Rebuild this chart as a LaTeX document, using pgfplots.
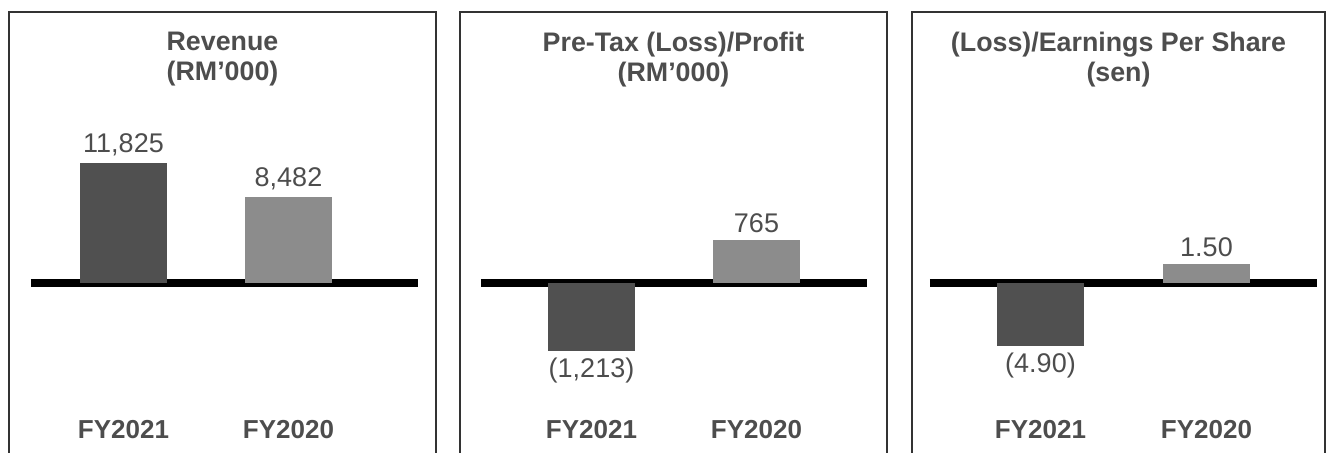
\documentclass[border=0pt]{standalone}
\usepackage{fontspec}
\setmainfont{Liberation Sans}
\usepackage{pgfplots}
\pgfplotsset{compat=1.18}
\definecolor{txt}{HTML}{4D4D4D}
\definecolor{darkbar}{HTML}{505050}
\definecolor{lightbar}{HTML}{8C8C8C}
\pgfplotsset{
  panel/.style={
    scale only axis, height=220.5pt,
    anchor=south west,
    axis line style={draw=none},
    ytick=\empty,
    xtick={0,1}, xticklabels={FY2021,FY2020},
    major tick length=0pt,
    xticklabel style={anchor=base, yshift=7pt, font=\fontsize{13}{15}\selectfont\bfseries, text=txt},
    clip=false,
    ybar, bar width=43.5pt, bar shift=0pt,
  },
  lbar/.style={draw=none, bar shift=0pt, nodes near coords, point meta=explicit symbolic,
    every node near coord/.append style={font=\fontsize{13.5}{15}\selectfont, text=txt}},
  nbar/.style={lbar, every node near coord/.append style={anchor=north}},
  zeroline/.style={sharp plot, line width=4pt, black, no marks, forget plot},
}
\tikzset{
  pframe/.style={black!80, line width=0.8pt},
  ttl/.style={anchor=north, align=center, font=\fontsize{13.4}{14.8}\selectfont\bfseries, text=txt, yshift=-10pt, inner sep=0pt},
}
\begin{document}
\begin{tikzpicture}
\useasboundingbox (0,0) rectangle (663pt,226.5pt);
% Panel 1
\begin{axis}[panel, at={(4.5pt,0pt)}, width=213.5pt,
  xmin=-0.694, xmax=1.894, ymin=-16752, ymax=26704]
  \addplot[zeroline] coordinates {(-0.561,0) (1.785,0)};
  \addplot[lbar, fill=darkbar] coordinates {(0,11825) [11,825]};
  \addplot[lbar, fill=lightbar] coordinates {(1,8482) [8,482]};
  \draw[pframe] (rel axis cs:0,0) -- (rel axis cs:0,1) -- (rel axis cs:1,1) -- (rel axis cs:1,0);
  \node[ttl] at (rel axis cs:0.5,1) {Revenue\\(RM’000)};
\end{axis}
% Panel 2
\begin{axis}[panel, at={(230pt,0pt)}, width=213.5pt,
  xmin=-0.797, xmax=1.791, ymin=-3026, ymax=4824]
  \addplot[zeroline] coordinates {(-0.670,0) (1.670,0)};
  \addplot[nbar, fill=darkbar] coordinates {(0,-1213) [(1,213)]};
  \addplot[lbar, fill=lightbar] coordinates {(1,765) [765]};
  \draw[pframe] (rel axis cs:0,0) -- (rel axis cs:0,1) -- (rel axis cs:1,1) -- (rel axis cs:1,0);
  \node[ttl] at (rel axis cs:0.5,1) {Pre-Tax (Loss)/Profit\\(RM’000)};
\end{axis}
% Panel 3
\begin{axis}[panel, at={(456pt,0pt)}, width=206.5pt,
  xmin=-0.774, xmax=1.714, ymin=-13.26, ymax=21.14]
  \addplot[zeroline] coordinates {(-0.666,0) (1.666,0)};
  \addplot[nbar, fill=darkbar] coordinates {(0,-4.90) [(4.90)]};
  \addplot[lbar, fill=lightbar] coordinates {(1,1.50) [1.50]};
  \draw[pframe] (rel axis cs:0,0) -- (rel axis cs:0,1) -- (rel axis cs:1,1) -- (rel axis cs:1,0);
  \node[ttl] at (rel axis cs:0.5,1) {(Loss)/Earnings Per Share\\(sen)};
\end{axis}
\end{tikzpicture}
\end{document}
